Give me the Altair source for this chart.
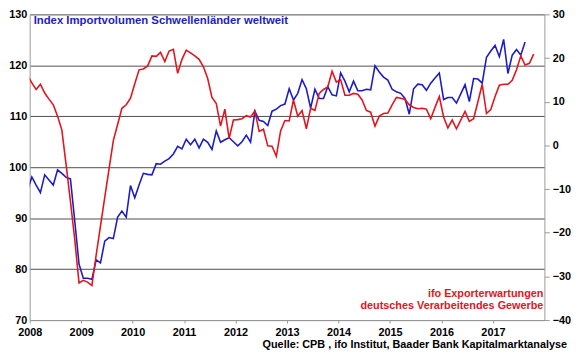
import altair as alt
import pandas as pd

# Monthly values, first entry = December 2007 (clipped at the 2008 axis start)
import_volume = [
    95.5,
    98.1, 96.5, 95.0, 98.5, 97.5, 96.5, 99.5, 98.8, 98.0, 97.7, 89.5, 81.0,
    78.2, 78.2, 78.0, 81.8, 81.2, 85.5, 86.2, 86.0, 90.2, 91.4, 90.2, 96.4,
    94.0, 96.5, 98.8, 98.6, 98.5, 100.7, 100.6, 101.2, 101.7, 102.6, 104.1, 103.6,
    105.5, 104.4, 105.5, 103.8, 105.5, 104.9, 103.5, 107.1, 104.9, 105.4, 105.8, 105.0,
    104.2, 105.0, 106.3, 104.9, 111.0, 109.2, 109.0, 108.2, 111.0, 111.4, 112.1, 112.4,
    115.4, 113.2, 114.5, 117.2, 115.4, 111.6, 115.3, 113.5, 113.5, 115.8, 114.2, 114.0,
    118.5, 116.9, 114.8, 116.9, 115.0, 115.0, 115.3, 115.2, 119.9, 118.7, 117.7, 117.1,
    115.3, 114.8, 114.5, 113.5, 110.4, 115.4, 116.3, 116.2, 115.1, 116.5, 117.5, 118.5,
    113.3, 113.7, 113.7, 112.6, 114.4, 116.2, 112.9, 117.4, 117.3, 116.5, 121.6, 122.8,
    123.9, 121.7, 125.1, 118.4, 122.0, 123.1, 122.0, 124.6,
]

ifo_export = [
    16.0,
    14.3, 12.8, 14.0, 12.0, 10.6, 9.3, 6.7, 3.5, -4.5, -12.8, -21.5, -31.5,
    -30.9, -31.3, -32.1, -25.1, -18.5, -11.9, -5.4, 1.1, 4.8, 8.5, 9.3, 10.8,
    14.1, 17.3, 17.5, 18.2, 20.5, 20.4, 21.3, 19.2, 21.6, 22.0, 16.5, 19.7,
    21.8, 21.2, 20.5, 19.7, 18.0, 15.3, 11.0, 9.6, 4.4, 8.3, 1.6, 5.8,
    5.9, 6.1, 6.8, 6.5, 7.9, 3.2, 3.7, -0.1, -0.2, -2.5, 3.3, 5.7,
    5.6, 10.4, 6.7, 8.0, 3.8, 8.5, 8.0, 11.9, 12.8, 13.4, 17.0, 14.5,
    15.0, 11.5, 11.5, 11.9, 11.7, 10.4, 8.0, 7.6, 4.4, 6.7, 7.3, 7.4,
    9.3, 11.0, 10.8, 10.5, 9.3, 8.7, 8.4, 8.5, 8.3, 6.1, 8.7, 11.2,
    6.5, 4.0, 5.8, 3.8, 5.8, 7.8, 5.5, 6.1, 10.0, 14.0, 7.3, 8.2,
    11.2, 13.8, 14.0, 14.0, 14.9, 17.3, 20.5, 18.4, 18.8, 20.9,
]

year_ticks = list(range(2008, 2018))
left_ticks = [70, 80, 90, 100, 110, 120, 130]
right_ticks = [-40, -30, -20, -10, 0, 10, 20, 30]

title_text = "Index Importvolumen Schwellenländer weltweit"
red_label = ["ifo Exporterwartungen", "deutsches Verarbeitendes Gewerbe"]
source_text = "Quelle: CPB , ifo Institut, Baader Bank Kapitalmarktanalyse"

BLUE = "#1c1cc4"
RED = "#e3141e"
FONT = "Liberation Sans, Arial, sans-serif"


def month_pos(i):
    # i = 0 is December 2007, points placed mid-month
    return 2007 + (11.5 + i) / 12.0


blue_df = pd.DataFrame({"t": [month_pos(i) for i in range(len(import_volume))],
                        "v": import_volume})
red_df = pd.DataFrame({"t": [month_pos(i) for i in range(len(ifo_export))],
                       "v": ifo_export})

x_enc = alt.X(
    "t:Q",
    scale=alt.Scale(domain=[2008, 2018], nice=False, zero=False),
    axis=alt.Axis(values=year_ticks, format="d", title=None, grid=False,
                  tickSize=3, labelPadding=4, domainColor="#9a9a9a",
                  tickColor="#9a9a9a", labelFlush=False, labelOverlap=False),
)

blue = alt.Chart(blue_df).mark_line(color=BLUE, strokeWidth=1.6, clip=True).encode(
    x=x_enc,
    y=alt.Y("v:Q", scale=alt.Scale(domain=[70, 130], nice=False, zero=False),
            axis=alt.Axis(orient="left", values=left_ticks, title=None, grid=True,
                          gridColor="#4d4d4d", gridWidth=1, ticks=False,
                          labelPadding=3, domainColor="#9a9a9a")),
)

red = alt.Chart(red_df).mark_line(color=RED, strokeWidth=1.6, clip=True).encode(
    x=x_enc,
    y=alt.Y("v:Q", scale=alt.Scale(domain=[-40, 30], nice=False, zero=False),
            axis=alt.Axis(orient="right", values=right_ticks, title=None, grid=False,
                          tickSize=5, labelPadding=3, domainColor="#9a9a9a",
                          tickColor="#9a9a9a")),
)

title_mark = alt.Chart(pd.DataFrame({"label": [title_text]})).mark_text(
    align="left", baseline="alphabetic", font=FONT, fontWeight="bold",
    fontSize=11.5, color=BLUE,
).encode(x=alt.value(4), y=alt.value(10), text="label:N")

red_mark1 = alt.Chart(pd.DataFrame({"label": [red_label[0]]})).mark_text(
    align="right", baseline="alphabetic", font=FONT, fontWeight="bold",
    fontSize=11, color=RED,
).encode(x=alt.value(521), y=alt.value(287), text="label:N")

red_mark2 = alt.Chart(pd.DataFrame({"label": [red_label[1]]})).mark_text(
    align="right", baseline="alphabetic", font=FONT, fontWeight="bold",
    fontSize=11, color=RED,
).encode(x=alt.value(521), y=alt.value(299), text="label:N")

source_mark = alt.Chart(pd.DataFrame({"label": [source_text]})).mark_text(
    align="right", baseline="alphabetic", font=FONT, fontWeight="bold",
    fontSize=11, color="black",
).encode(x=alt.value(545), y=alt.value(338), text="label:N")

chart = (
    alt.layer(blue, red, title_mark, red_mark1, red_mark2, source_mark)
    .resolve_scale(y="independent")
    .properties(
        width=522, height=310,
        autosize=alt.AutoSizeParams(type="none"),
        padding={"left": 22, "top": 4, "right": 28, "bottom": 36},
        background="white",
    )
    .configure_view(stroke=None)
    .configure_axis(labelFont=FONT, labelFontSize=11, labelFontWeight="bold",
                    labelColor="black")
)

chart.save("out.html", embed_options={"renderer": "svg", "actions": False})
